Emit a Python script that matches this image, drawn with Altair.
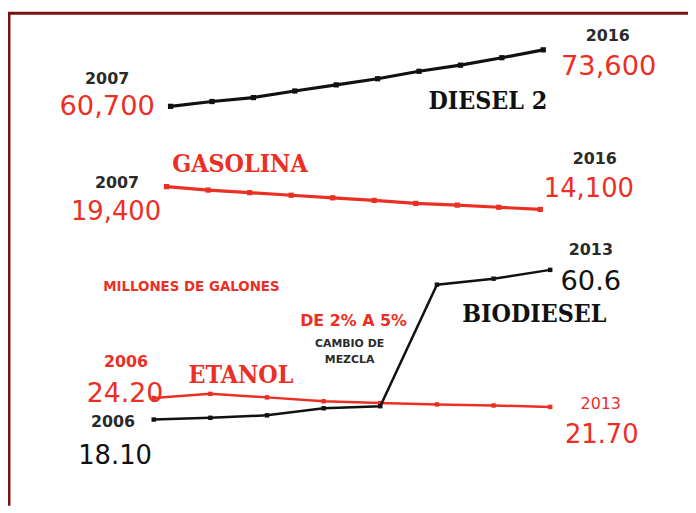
import altair as alt
import pandas as pd

# ---- data ----
years_long = [2007, 2008, 2009, 2010, 2011, 2012, 2013, 2014, 2015, 2016]
diesel2 = [60700, 61800, 62700, 64200, 65600, 67000, 68700, 70100, 71800, 73600]
gasolina = [19400, 18600, 18000, 17400, 16800, 16200, 15500, 15100, 14600, 14100]

years_short = [2006, 2007, 2008, 2009, 2010, 2011, 2012, 2013]
etanol = [24.2, 25.4, 24.4, 23.3, 22.8, 22.4, 22.1, 21.7]
biodiesel = [18.1, 18.6, 19.3, 21.3, 21.9, 56.4, 58.1, 60.6]

titles = ["DIESEL 2", "GASOLINA", "ETANOL", "BIODIESEL"]
unit_note = "MILLONES DE GALONES"
blend_note = ["DE 2% A 5%", "CAMBIO DE", "MEZCLA"]

# ---- styles ----
RED = "#ec2f25"
BLACK = "#111111"
DARK = "#2a2a2a"
NUM_FONT = "DejaVu Sans"
HEAD_FONT = "'DejaVu Serif Condensed', 'Liberation Serif', serif"

W, H = 686, 498


def enc(xdom, ydom):
    X = alt.X("year:Q", scale=alt.Scale(domain=xdom, nice=False, zero=False), axis=None)
    Y = alt.Y("value:Q", scale=alt.Scale(domain=ydom, nice=False, zero=False), axis=None)
    return X, Y


def series(years, values, color, X, Y, lw, msize):
    df = pd.DataFrame({"year": years, "value": values})
    base = alt.Chart(df).encode(x=X, y=Y)
    return [
        base.mark_line(color=color, strokeWidth=lw),
        base.mark_square(color=color, size=msize, opacity=1),
    ]


def label(year, value, text, X, Y, dx, dy, size, color, font=NUM_FONT, weight="normal"):
    df = pd.DataFrame({"year": [year], "value": [value], "label": [text]})
    return (
        alt.Chart(df)
        .mark_text(dx=dx, dy=dy, fontSize=size, color=color, font=font,
                   fontWeight=weight, align="center", baseline="middle")
        .encode(x=X, y=Y, text="label:N")
    )


# ---- Diesel 2 ----
Xd, Yd = enc([2003.0745, 2019.4947], [-30506, 82200])
g_diesel = alt.layer(
    *series(years_long, diesel2, BLACK, Xd, Yd, 3.2, 28),
    label(years_long[0], diesel2[0], str(years_long[0]), Xd, Yd, -64, -28, 16, DARK, weight="bold"),
    label(years_long[0], diesel2[0], f"{diesel2[0]:,}", Xd, Yd, -64, 1, 27.5, RED),
    label(years_long[-1], diesel2[-1], str(years_long[-1]), Xd, Yd, 65, -14, 16, DARK, weight="bold"),
    label(years_long[-1], diesel2[-1], f"{diesel2[-1]:,}", Xd, Yd, 66, 17, 27.5, RED),
    label(years_long[-1], diesel2[-1], titles[0], Xd, Yd, -56, 52, 25, BLACK, font=HEAD_FONT, weight="bold"),
)

# ---- Gasolina ----
Xg, Yg = enc([2003.1804, 2019.557], [-54800, 59957])
g_gas = alt.layer(
    *series(years_long, gasolina, RED, Xg, Yg, 3.2, 28),
    label(years_long[0], gasolina[0], str(years_long[0]), Xg, Yg, -50, -4, 16, DARK, weight="bold"),
    label(years_long[0], gasolina[0], f"{gasolina[0]:,}", Xg, Yg, -51, 26, 26, RED),
    label(years_long[0], gasolina[0], titles[1], Xg, Yg, 74, -23, 25, RED, font=HEAD_FONT, weight="bold"),
    label(years_long[-1], gasolina[-1], str(years_long[-1]), Xg, Yg, 55, -51, 16, DARK, weight="bold"),
    label(years_long[-1], gasolina[-1], f"{gasolina[-1]:,}", Xg, Yg, 49, -21, 26, RED),
)

# ---- Etanol & Biodiesel ----
Xe, Ye = enc([2003.4275, 2015.4325], [-6.39, 133.78])
g_bio = alt.layer(
    *series(years_short, etanol, RED, Xe, Ye, 2.5, 20),
    *series(years_short, biodiesel, BLACK, Xe, Ye, 2.5, 20),
    label(years_short[0], etanol[0], str(years_short[0]), Xe, Ye, -28, -36, 16, RED, weight="bold"),
    label(years_short[0], etanol[0], f"{etanol[0]:.2f}", Xe, Ye, -29, -4, 27, RED),
    label(years_short[0], etanol[0], titles[2], Xe, Ye, 88, -23, 25, RED, font=HEAD_FONT, weight="bold"),
    label(years_short[-1], etanol[-1], str(years_short[-1]), Xe, Ye, 51, -3, 16, RED),
    label(years_short[-1], etanol[-1], f"{etanol[-1]:.2f}", Xe, Ye, 52, 28, 26, RED),
    label(years_short[0], biodiesel[0], str(years_short[0]), Xe, Ye, -41, 3, 16, DARK, weight="bold"),
    label(years_short[0], biodiesel[0], f"{biodiesel[0]:.2f}", Xe, Ye, -39, 37, 26, BLACK),
    label(years_short[-1], biodiesel[-1], str(years_short[-1]), Xe, Ye, 41, -20, 16, DARK, weight="bold"),
    label(years_short[-1], biodiesel[-1], f"{biodiesel[-1]:.1f}", Xe, Ye, 41, 12, 27.5, BLACK),
    label(years_short[-1], biodiesel[-1], titles[3], Xe, Ye, -16, 45, 25, BLACK, font=HEAD_FONT, weight="bold"),
    label(years_short[4], biodiesel[4], blend_note[0], Xe, Ye, -27, -86, 16, RED, weight="bold"),
    label(years_short[4], biodiesel[4], blend_note[1], Xe, Ye, -31, -63, 11, DARK, weight="bold"),
    label(years_short[4], biodiesel[4], blend_note[2], Xe, Ye, -31, -47, 11, DARK, weight="bold"),
    label(years_short[0], biodiesel[0], unit_note, Xe, Ye, 38, -134, 13.5, RED, weight="bold"),
)

# ---- frame (left and top border) ----
frame_left = alt.Chart(pd.DataFrame({"a": [0]})).mark_rule(color="#7a1214", strokeWidth=3).encode(
    x=alt.value(1), y=alt.value(0), y2=alt.value(H)
)
frame_top = alt.Chart(pd.DataFrame({"a": [0]})).mark_rule(color="#7a1214", strokeWidth=3).encode(
    x=alt.value(0), x2=alt.value(W), y=alt.value(1)
)

chart = (
    alt.layer(g_diesel, g_gas, g_bio, frame_left, frame_top)
    .resolve_scale(x="independent", y="independent")
    .properties(width=W, height=H, autosize="none",
                padding={"left": 0, "top": 2, "right": 0, "bottom": 0},
                background="white")
    .configure_view(fill="white", stroke=None)
)

chart.save("out.html", embed_options={"renderer": "svg", "actions": False})
